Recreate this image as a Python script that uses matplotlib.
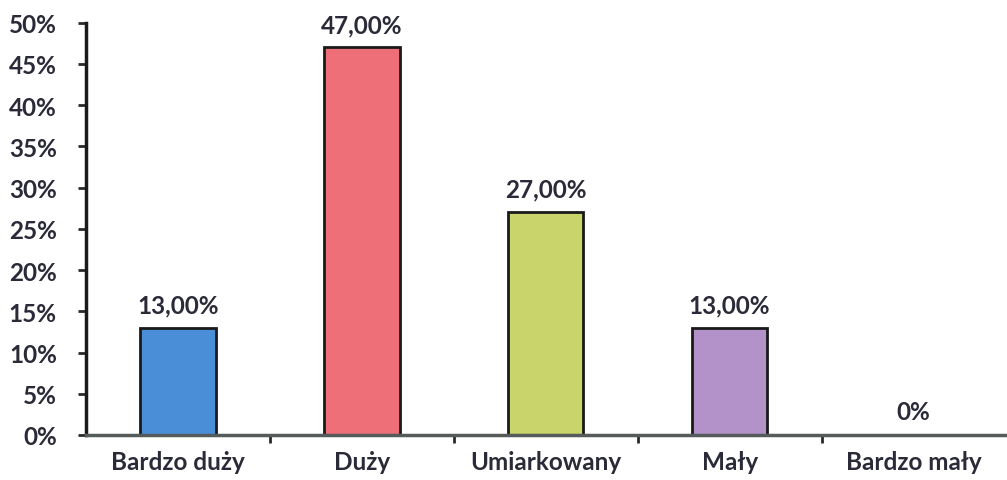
import matplotlib
matplotlib.use("Agg")
import matplotlib.pyplot as plt
from matplotlib.ticker import PercentFormatter, FixedLocator

categories = ["Bardzo duży", "Duży", "Umiarkowany", "Mały", "Bardzo mały"]
values = [13.0, 47.0, 27.0, 13.0, 0.0]
value_labels = ["13,00%", "47,00%", "27,00%", "13,00%", "0%"]
colors = ["#4a8ed8", "#ef6f78", "#c9d56a", "#b391c9", "#b391c9"]

plt.rcParams['font.family'] = ['Lato', 'DejaVu Sans']
plt.rcParams['font.weight'] = 'bold'
text_color = "#2a2a38"
fs = 17.5

fig = plt.figure(figsize=(10.07, 4.81), dpi=100)
ax = fig.add_axes([0.0854, 0.0936, 0.913, 0.857])

x = list(range(len(categories)))
ax.bar(x, values, width=0.41, color=colors, edgecolor="#1a1a1a", linewidth=2)

for xi, v, lab in zip(x, values, value_labels):
    ax.text(xi, v + 1.4, lab, ha="center", va="bottom", fontsize=fs,
            fontweight="bold", color=text_color)

ax.set_xlim(-0.5, len(categories) - 0.5)
ax.set_ylim(0, 50)
ax.set_yticks(range(0, 51, 5))
ax.yaxis.set_major_formatter(PercentFormatter(decimals=0))
ax.set_xticks(x)
ax.set_xticklabels(categories)
ax.xaxis.set_minor_locator(FixedLocator([i + 0.5 for i in x[:-1]]))

ax.tick_params(axis="x", which="major", length=0, pad=11, labelsize=fs, labelcolor=text_color)
ax.tick_params(axis="x", which="minor", length=6, width=2, direction="out", color="#2a2a2a")
ax.tick_params(axis="y", length=6, width=2, direction="out", pad=15, labelsize=fs,
               labelcolor=text_color, color="#2a2a2a")

for s in ["top", "right"]:
    ax.spines[s].set_visible(False)
ax.spines["left"].set_linewidth(2.5)
ax.spines["left"].set_color("#1a1a1a")
ax.spines["bottom"].set_linewidth(2.5)
ax.spines["bottom"].set_color("#555a5a")

fig.savefig("out.png", dpi=100)
